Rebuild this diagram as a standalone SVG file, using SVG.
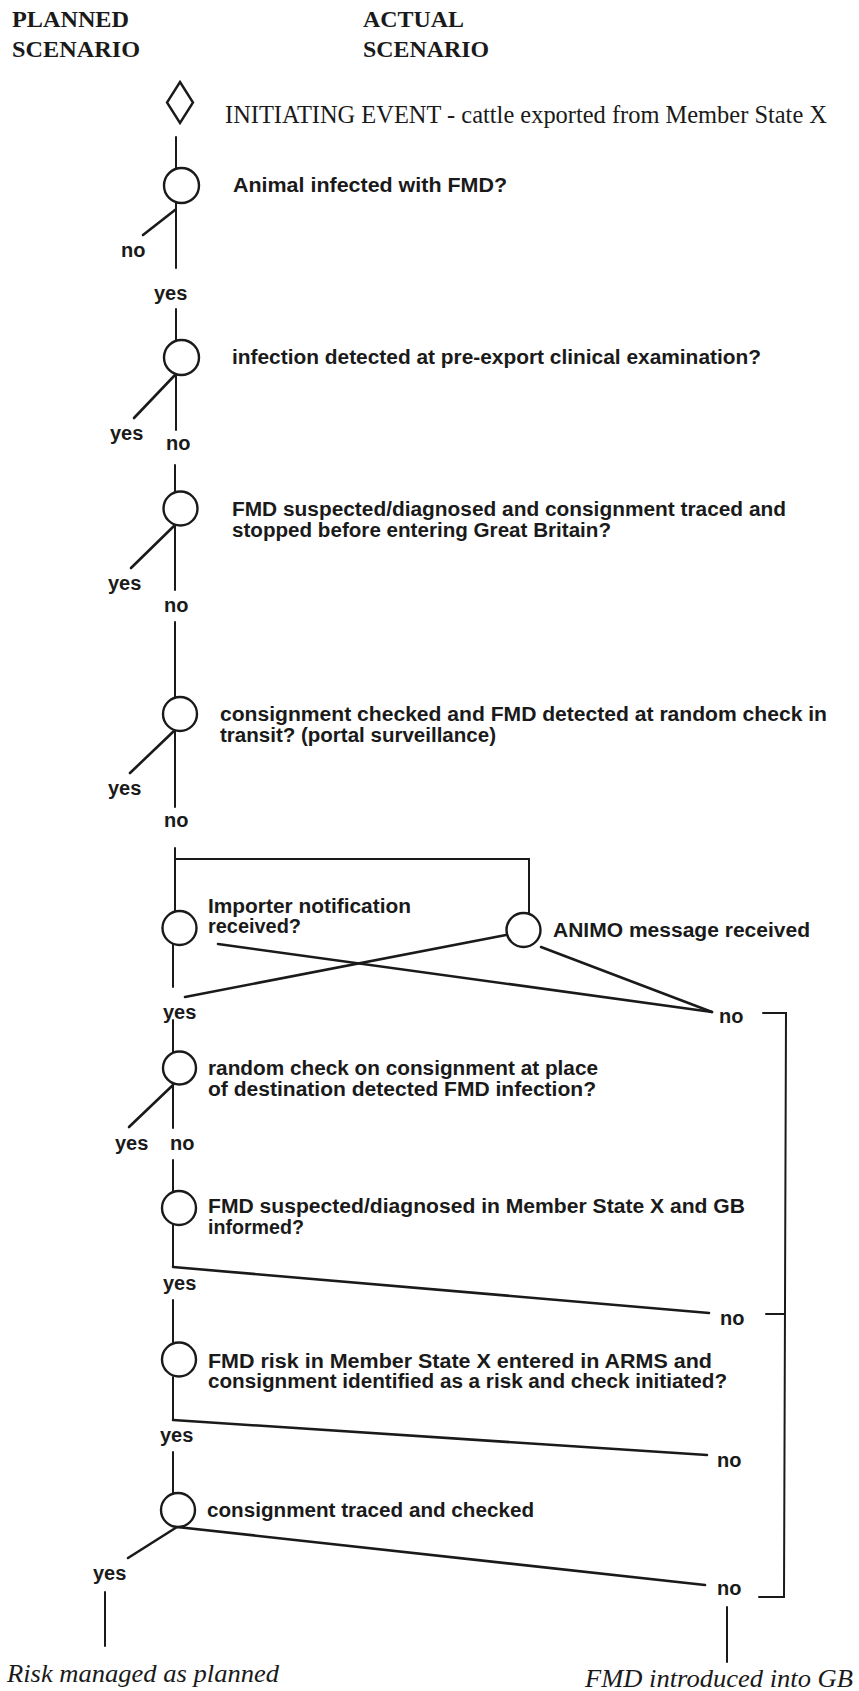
<svg xmlns="http://www.w3.org/2000/svg" width="859" height="1691" viewBox="0 0 859 1691">
<style>
.ln{stroke:#1a1a1a;stroke-width:2;fill:none;stroke-linecap:round;stroke-linejoin:miter}
.br{stroke:#1a1a1a;stroke-width:2.6;fill:none;stroke-linecap:round}
.nd{stroke:#1a1a1a;stroke-width:2.4;fill:#fff}
.q{font-family:"Liberation Sans",Arial,sans-serif;font-weight:bold;font-size:20px;fill:#1a1a1a}
.lb{font-family:"Liberation Sans",Arial,sans-serif;font-weight:bold;font-size:20px;fill:#1a1a1a}
.hd{font-family:"Liberation Serif","Times New Roman",serif;font-weight:bold;font-size:24px;fill:#1a1a1a}
.ie{font-family:"Liberation Serif","Times New Roman",serif;font-size:25px;fill:#1a1a1a}
.out{font-family:"Liberation Serif","Times New Roman",serif;font-style:italic;font-size:25px;fill:#1a1a1a}
</style>
<rect width="859" height="1691" fill="#fff"/>

<g id="headers">
<text class="hd" x="12" y="27" textLength="117" lengthAdjust="spacingAndGlyphs">PLANNED</text>
<text class="hd" x="12" y="57" textLength="128" lengthAdjust="spacingAndGlyphs">SCENARIO</text>
<text class="hd" x="363" y="27" textLength="101" lengthAdjust="spacingAndGlyphs">ACTUAL</text>
<text class="hd" x="363" y="57" textLength="126" lengthAdjust="spacingAndGlyphs">SCENARIO</text>
</g>

<g id="connectors">
<path class="ln" d="M176,137 V168"/>
<path class="ln" d="M176,203 V268"/>
<path class="br" d="M175,210 L143,235"/>
<path class="ln" d="M176,309 V341"/>
<path class="ln" d="M176,375 V430"/>
<path class="br" d="M175,375 L134,418"/>
<path class="ln" d="M175,465 V492"/>
<path class="ln" d="M175,525 V590"/>
<path class="br" d="M175,525 L131,568"/>
<path class="ln" d="M175,622 V698"/>
<path class="ln" d="M175,730 V807"/>
<path class="br" d="M175,730 L130,773"/>
<path class="ln" d="M175,848 V912"/>
<path class="ln" d="M175,859 H529 V913"/>
<path class="ln" d="M173,944 V987"/>
<path class="br" d="M218,944 L712,1012"/>
<path class="br" d="M506,935 L185,997"/>
<path class="br" d="M541,947 L712,1012"/>
<path class="ln" d="M173,1020 V1052"/>
<path class="ln" d="M173,1085 V1128"/>
<path class="br" d="M173,1085 L129,1127"/>
<path class="ln" d="M173,1160 V1192"/>
<path class="ln" d="M173,1225 V1267"/>
<path class="br" d="M173,1267 L709,1313"/>
<path class="ln" d="M173,1300 V1342"/>
<path class="ln" d="M173,1377 V1420"/>
<path class="br" d="M173,1420 L707,1455"/>
<path class="ln" d="M173,1452 V1493"/>
<path class="br" d="M177,1527 L128,1558"/>
<path class="br" d="M177,1527 L705,1585"/>
<path class="ln" d="M105,1592 V1646"/>
<path class="ln" d="M727,1607 V1662"/>
<path class="ln" d="M763,1013 H786 L784,1597 H759"/>
<path class="ln" d="M766,1314 H785"/>
</g>

<g id="branch-labels">
<text class="lb" x="121" y="257">no</text>
<text class="lb" x="154" y="300">yes</text>
<text class="lb" x="110" y="440">yes</text>
<text class="lb" x="166" y="450">no</text>
<text class="lb" x="108" y="590">yes</text>
<text class="lb" x="164" y="612">no</text>
<text class="lb" x="108" y="795">yes</text>
<text class="lb" x="164" y="827">no</text>
<text class="lb" x="163" y="1019">yes</text>
<text class="lb" x="719" y="1023">no</text>
<text class="lb" x="115" y="1150">yes</text>
<text class="lb" x="170" y="1150">no</text>
<text class="lb" x="163" y="1290">yes</text>
<text class="lb" x="720" y="1325">no</text>
<text class="lb" x="160" y="1442">yes</text>
<text class="lb" x="717" y="1467">no</text>
<text class="lb" x="93" y="1580">yes</text>
<text class="lb" x="717" y="1595">no</text>
</g>

<g id="initiating-event">
<polygon class="nd" points="180,82 193,102.5 180,123 167,102.5"/>
<text class="ie" x="225" y="123" textLength="602" lengthAdjust="spacingAndGlyphs">INITIATING EVENT - cattle exported from Member State X</text>
</g>

<g id="n-infected">
<circle class="nd" cx="181.5" cy="185.5" r="17.5"/>
<text class="q" x="233" y="192" textLength="274" lengthAdjust="spacingAndGlyphs">Animal infected with FMD?</text>
</g>

<g id="n-preexport">
<circle class="nd" cx="181.5" cy="357.5" r="17.5"/>
<text class="q" x="232" y="364" textLength="529" lengthAdjust="spacingAndGlyphs">infection detected at pre-export clinical examination?</text>
</g>

<g id="n-traced-stopped">
<circle class="nd" cx="180.5" cy="508.5" r="17"/>
<text class="q" x="232" y="516" textLength="554" lengthAdjust="spacingAndGlyphs">FMD suspected/diagnosed and consignment traced and</text>
<text class="q" x="232" y="537" textLength="379" lengthAdjust="spacingAndGlyphs">stopped before entering Great Britain?</text>
</g>

<g id="n-transit">
<circle class="nd" cx="180" cy="714" r="17"/>
<text class="q" x="220" y="721" textLength="607" lengthAdjust="spacingAndGlyphs">consignment checked and FMD detected at random check in</text>
<text class="q" x="220" y="742" textLength="276" lengthAdjust="spacingAndGlyphs">transit? (portal surveillance)</text>
</g>

<g id="n-importer">
<circle class="nd" cx="179.5" cy="928" r="17"/>
<text class="q" x="208" y="913" textLength="203" lengthAdjust="spacingAndGlyphs">Importer notification</text>
<text class="q" x="208" y="933" textLength="93" lengthAdjust="spacingAndGlyphs">received?</text>
</g>

<g id="n-animo">
<circle class="nd" cx="523.5" cy="930" r="17"/>
<text class="q" x="553" y="937" textLength="257" lengthAdjust="spacingAndGlyphs">ANIMO message received</text>
</g>

<g id="n-random-dest">
<circle class="nd" cx="179.5" cy="1068" r="16.5"/>
<text class="q" x="208" y="1075" textLength="390" lengthAdjust="spacingAndGlyphs">random check on consignment at place</text>
<text class="q" x="208" y="1096" textLength="388" lengthAdjust="spacingAndGlyphs">of destination detected FMD infection?</text>
</g>

<g id="n-gb-informed">
<circle class="nd" cx="179" cy="1208" r="17"/>
<text class="q" x="208" y="1213" textLength="537" lengthAdjust="spacingAndGlyphs">FMD suspected/diagnosed in Member State X and GB</text>
<text class="q" x="208" y="1234" textLength="96" lengthAdjust="spacingAndGlyphs">informed?</text>
</g>

<g id="n-arms">
<circle class="nd" cx="179" cy="1359.5" r="17"/>
<text class="q" x="208" y="1368" textLength="504" lengthAdjust="spacingAndGlyphs">FMD risk in Member State X entered in ARMS and</text>
<text class="q" x="208" y="1388" textLength="519" lengthAdjust="spacingAndGlyphs">consignment identified as a risk and check initiated?</text>
</g>

<g id="n-traced-checked">
<circle class="nd" cx="178" cy="1510" r="17"/>
<text class="q" x="207" y="1517" textLength="327" lengthAdjust="spacingAndGlyphs">consignment traced and checked</text>
</g>

<g id="outcome-planned">
<text class="out" x="7" y="1682" textLength="272" lengthAdjust="spacingAndGlyphs">Risk managed as planned</text>
</g>

<g id="outcome-fmd">
<text class="out" x="585" y="1687" textLength="268" lengthAdjust="spacingAndGlyphs">FMD introduced into GB</text>
</g>
</svg>
